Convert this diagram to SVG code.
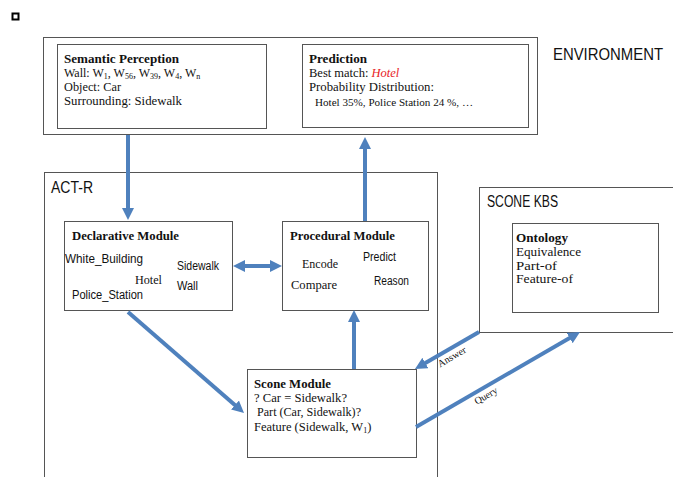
<svg xmlns="http://www.w3.org/2000/svg" width="673" height="477" viewBox="0 0 673 477">
<style>
.box{fill:#fff;stroke:#555;stroke-width:1}
.outer{fill:none;stroke:#555;stroke-width:1}
.ser{font-family:"Liberation Serif","Times New Roman",serif;font-size:12.5px;fill:#111}
.serb{font-family:"Liberation Serif","Times New Roman",serif;font-size:12.5px;font-weight:bold;fill:#111}
.sans{font-family:"Liberation Sans",Arial,sans-serif;font-size:12px;fill:#111}
.big{font-family:"Liberation Sans",Arial,sans-serif;font-size:16px;fill:#111}
.lbl{font-family:"Liberation Serif","Times New Roman",serif;font-size:10px;fill:#111}
.arr{stroke:#4F81BD;stroke-width:4;fill:none}
</style>
<defs>
<marker id="ah" markerUnits="userSpaceOnUse" markerWidth="12" markerHeight="12" refX="4" refY="6" orient="auto-start-reverse">
<path d="M0,0 L12,6 L0,12 z" fill="#4F81BD"/>
</marker>
</defs>
<rect x="12.5" y="13.5" width="6" height="6" fill="none" stroke="#000" stroke-width="2"/>

<g id="environment">
<rect class="outer" x="43.5" y="37.5" width="494" height="97"/>
<text class="big" x="553" y="60" textLength="110" lengthAdjust="spacingAndGlyphs">ENVIRONMENT</text>
</g>
<g id="semantic-perception">
<rect class="box" x="57.5" y="44.5" width="209" height="84"/>
<text class="serb" x="64" y="63" textLength="115" lengthAdjust="spacingAndGlyphs">Semantic Perception</text>
<text class="ser" x="64" y="77" style="font-size:12px">Wall: W<tspan style="font-size:8px" dy="2">1</tspan><tspan dy="-2">, W</tspan><tspan style="font-size:8px" dy="2">56</tspan><tspan dy="-2">, W</tspan><tspan style="font-size:8px" dy="2">39</tspan><tspan dy="-2">, W</tspan><tspan style="font-size:8px" dy="2">4</tspan><tspan dy="-2">, W</tspan><tspan style="font-size:8px" dy="2">n</tspan></text>
<text class="ser" x="64" y="91" textLength="57" lengthAdjust="spacingAndGlyphs">Object: Car</text>
<text class="ser" x="64" y="104.5" textLength="118" lengthAdjust="spacingAndGlyphs">Surrounding: Sidewalk</text>
</g>
<g id="prediction">
<rect class="box" x="302.5" y="44.5" width="226" height="83"/>
<text class="serb" x="309" y="63" textLength="58" lengthAdjust="spacingAndGlyphs">Prediction</text>
<text class="ser" x="309" y="77">Best match: <tspan fill="#e8231f" font-style="italic">Hotel</tspan></text>
<text class="ser" x="309" y="91" textLength="125" lengthAdjust="spacingAndGlyphs">Probability Distribution:</text>
<text class="ser" x="315" y="106" style="font-size:11px" textLength="158" lengthAdjust="spacingAndGlyphs">Hotel 35%, Police Station 24 %, …</text>
</g>

<g id="act-r">
<rect class="outer" x="44.5" y="172.5" width="393" height="320"/>
<text class="big" x="51" y="193" textLength="42" lengthAdjust="spacingAndGlyphs">ACT-R</text>
</g>
<g id="declarative-module">
<rect class="box" x="64.5" y="221.5" width="168" height="89"/>
<text class="serb" x="72" y="240" textLength="107" lengthAdjust="spacingAndGlyphs">Declarative Module</text>
<text class="sans" x="65" y="263" textLength="78" lengthAdjust="spacingAndGlyphs">White_Building</text>
<text class="sans" x="177" y="270" textLength="42" lengthAdjust="spacingAndGlyphs">Sidewalk</text>
<text class="ser" x="135" y="284" textLength="27" lengthAdjust="spacingAndGlyphs">Hotel</text>
<text class="sans" x="177" y="290" textLength="21" lengthAdjust="spacingAndGlyphs">Wall</text>
<text class="sans" x="72" y="299" textLength="71" lengthAdjust="spacingAndGlyphs">Police_Station</text>
</g>
<g id="procedural-module">
<rect class="box" x="282.5" y="221.5" width="146" height="89"/>
<text class="serb" x="290" y="240" textLength="105" lengthAdjust="spacingAndGlyphs">Procedural Module</text>
<text class="ser" x="302" y="268" textLength="36" lengthAdjust="spacingAndGlyphs">Encode</text>
<text class="sans" x="363" y="261" textLength="33" lengthAdjust="spacingAndGlyphs">Predict</text>
<text class="ser" x="291" y="289" textLength="46" lengthAdjust="spacingAndGlyphs">Compare</text>
<text class="sans" x="374" y="285" textLength="35" lengthAdjust="spacingAndGlyphs">Reason</text>
</g>
<g id="scone-module">
<rect class="box" x="247.5" y="369.5" width="169" height="88"/>
<text class="serb" x="254" y="388" textLength="77" lengthAdjust="spacingAndGlyphs">Scone Module</text>
<text class="ser" x="254" y="402" textLength="93" lengthAdjust="spacingAndGlyphs">? Car = Sidewalk?</text>
<text class="ser" x="257" y="416" textLength="104" lengthAdjust="spacingAndGlyphs">Part (Car, Sidewalk)?</text>
<text class="ser" x="254" y="431">Feature (Sidewalk, W<tspan style="font-size:8px" dy="2">1</tspan><tspan dy="-2">)</tspan></text>
</g>

<g id="scone-kbs">
<rect class="outer" x="479.5" y="187.5" width="200" height="145"/>
<text class="big" x="487" y="207" textLength="71" lengthAdjust="spacingAndGlyphs">SCONE KBS</text>
</g>
<g id="ontology">
<rect class="box" x="512.5" y="223.5" width="146" height="89"/>
<text class="serb" x="516" y="242" textLength="52" lengthAdjust="spacingAndGlyphs">Ontology</text>
<text class="ser" x="516" y="256" textLength="65" lengthAdjust="spacingAndGlyphs">Equivalence</text>
<text class="ser" x="516" y="269.5" textLength="41" lengthAdjust="spacingAndGlyphs">Part-of</text>
<text class="ser" x="516" y="283" textLength="57" lengthAdjust="spacingAndGlyphs">Feature-of</text>
</g>

<g id="connectors">
<line class="arr" x1="128" y1="135" x2="128" y2="212" marker-end="url(#ah)"/>
<line class="arr" x1="365" y1="221" x2="365" y2="145" marker-end="url(#ah)"/>
<line class="arr" x1="241" y1="266" x2="274" y2="266" marker-start="url(#ah)" marker-end="url(#ah)"/>
<line class="arr" x1="128" y1="312" x2="238" y2="407.7" marker-end="url(#ah)"/>
<line class="arr" x1="354" y1="369" x2="354" y2="318" marker-end="url(#ah)"/>
<line class="arr" x1="479" y1="332" x2="421.9" y2="365" marker-end="url(#ah)"/>
<line class="arr" x1="416" y1="427" x2="573.1" y2="336" marker-end="url(#ah)"/>
<text class="lbl" x="452" y="360" text-anchor="middle" transform="rotate(-30 452 357)">Answer</text>
<text class="lbl" x="486" y="399" text-anchor="middle" transform="rotate(-30 486 396)">Query</text>
</g>
</svg>
